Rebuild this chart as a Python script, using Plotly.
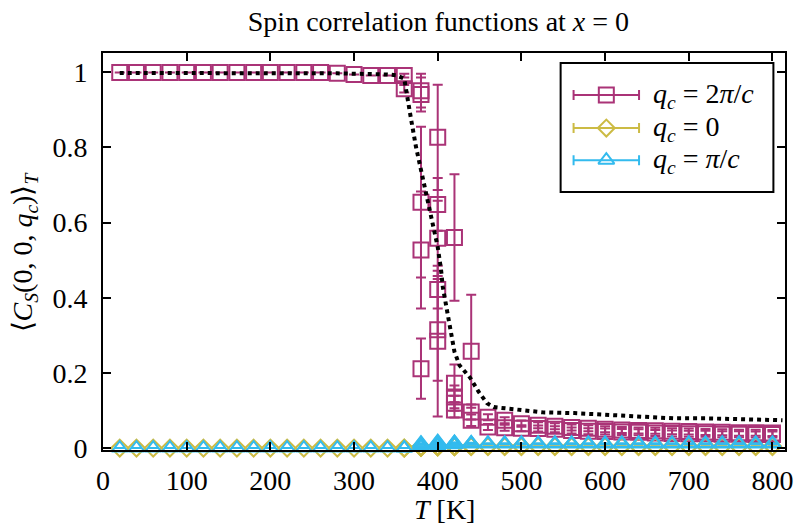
import plotly.graph_objects as go

# ---------------- data ----------------
T_purple = [20, 40, 60, 80, 100, 120, 140, 160, 180, 200, 220, 240, 260, 280, 300, 320, 340,
            360, 360,
            380, 380, 380, 380, 380,
            400, 400, 400, 400, 400, 400,
            420, 420, 420, 420, 420,
            440, 440, 440,
            460, 460, 480, 480, 500, 500, 520, 520, 540, 540, 560, 560, 580, 580,
            600, 600, 620, 620, 640, 640, 660, 660, 680, 680, 700, 700, 720, 720,
            740, 740, 760, 760, 780, 780, 800, 800]
C_purple = [0.998, 0.998, 0.998, 0.998, 0.998, 0.998, 0.998, 0.998, 0.998, 0.998, 0.998, 0.998, 0.998,
            0.996, 0.993, 0.990, 0.990,
            0.990, 0.955,
            0.950, 0.940, 0.654, 0.527, 0.212,
            0.826, 0.648, 0.558, 0.422, 0.315, 0.285,
            0.560, 0.173, 0.137, 0.120, 0.102,
            0.258, 0.097, 0.075,
            0.083, 0.057, 0.075, 0.055, 0.066, 0.054, 0.062, 0.053, 0.059, 0.051, 0.056, 0.048,
            0.054, 0.046, 0.051, 0.045, 0.049, 0.044, 0.048, 0.043, 0.047, 0.041, 0.046, 0.040,
            0.045, 0.039, 0.044, 0.039, 0.043, 0.038, 0.042, 0.038, 0.042, 0.037, 0.041, 0.037]
E_purple = [0.0] * 17 + [0.005, 0.010,
            0.045, 0.045, 0.200, 0.155, 0.080,
            0.140, 0.070, 0.100, 0.050, 0.135, 0.200,
            0.168, 0.050, 0.030, 0.020, 0.020,
            0.150, 0.020, 0.015] + [0.008] * 36

C_yellow = [0.001] * 19 + [0.003, 0.004, 0.005, 0.004, 0.003,
            0.004, 0.005, 0.006, 0.005, 0.004, 0.005,
            0.005, 0.006, 0.005, 0.006, 0.005,
            0.006, 0.005, 0.006] + [0.006, 0.005] * 18
E_yellow = [0.0] * len(T_purple)

C_cyan = [0.001] * 19 + [0.004, 0.006, 0.010, 0.012, 0.014,
          0.008, 0.010, 0.012, 0.014, 0.016, 0.018,
          0.010, 0.012, 0.014, 0.015, 0.016,
          0.012, 0.014, 0.015] + [0.014, 0.012] * 18
E_cyan = [0.0] * len(T_purple)

T_dotted = [20, 100, 200, 280, 340, 350, 360, 364, 368, 374, 380, 384, 388, 392, 396, 400,
            404, 406, 410, 413, 416, 420, 426, 433, 439, 449, 459, 467, 487, 500, 525, 563,
            600, 643, 682, 721, 760, 812]
C_dotted = [0.997, 0.997, 0.997, 0.996, 0.993, 0.991, 0.982, 0.925, 0.876, 0.801, 0.739, 0.695,
            0.650, 0.606, 0.571, 0.535, 0.474, 0.430, 0.380, 0.345, 0.300, 0.257, 0.221, 0.203,
            0.187, 0.150, 0.120, 0.110, 0.106, 0.102, 0.096, 0.094, 0.090, 0.083, 0.080, 0.080,
            0.078, 0.075]

series_names = ["<i>q</i><sub><i>c</i></sub> = 2<i>π</i>/<i>c</i>",
                "<i>q</i><sub><i>c</i></sub> = 0",
                "<i>q</i><sub><i>c</i></sub> = <i>π</i>/<i>c</i>"]
colors = ["#AA3377", "#CCBB44", "#33BBEE"]
symbols = ["square-open", "diamond-open", "triangle-up-open"]
sizes = [15, 13, 14]

x_ticks = [0, 100, 200, 300, 400, 500, 600, 700, 800]
y_ticks = [0, 0.2, 0.4, 0.6, 0.8, 1]
y_ticktext = ["0", "0.2", "0.4", "0.6", "0.8", "1"]

FONT = "Liberation Serif"
FS = 28

fig = go.Figure()

for vals, errs, col, sym, sz in [(C_purple, E_purple, colors[0], symbols[0], sizes[0]),
                                 (C_yellow, E_yellow, colors[1], symbols[1], sizes[1]),
                                 (C_cyan, E_cyan, colors[2], symbols[2], sizes[2])]:
    fig.add_trace(go.Scatter(
        x=T_purple, y=vals, mode="markers",
        marker=dict(symbol=sym, size=sz, color=col, line=dict(width=2, color=col)),
        error_y=dict(type="data", array=errs, visible=True, color=col, thickness=2, width=5),
        cliponaxis=False, showlegend=False))

fig.add_trace(go.Scatter(
    x=T_dotted, y=C_dotted, mode="lines",
    line=dict(color="black", width=4, dash="dot"), showlegend=False))

# ------------- custom legend (gnuplot-like) -------------
leg_y = [0.894, 0.811, 0.730]
for i in range(3):
    fig.add_trace(go.Scatter(
        x=[0.738], y=[leg_y[i]], xaxis="x2", yaxis="y2", mode="markers",
        marker=dict(symbol=symbols[i], size=sizes[i], color=colors[i],
                    line=dict(width=2, color=colors[i])),
        error_x=dict(type="constant", value=0.048, visible=True, color=colors[i],
                     thickness=2, width=5),
        cliponaxis=False, showlegend=False, hoverinfo="skip"))
    fig.add_annotation(x=0.803, y=leg_y[i], xref="paper", yref="paper", text=series_names[i],
                       showarrow=False, xanchor="left", yanchor="middle",
                       font=dict(family=FONT, size=FS, color="black"))

fig.add_shape(type="rect", xref="paper", yref="paper", x0=0.671, x1=0.983, y0=0.650, y1=0.975,
              line=dict(color="black", width=2), fillcolor="white", layer="below")

axis_common = dict(showgrid=False, zeroline=False, ticks="inside", ticklen=8, tickwidth=1.5,
                   tickcolor="black", showline=True, linecolor="black", linewidth=2,
                   mirror="ticks", tickfont=dict(family=FONT, size=FS, color="black"))

fig.update_layout(
    width=803, height=526,
    margin=dict(l=103, r=10, t=53, b=76),
    paper_bgcolor="white", plot_bgcolor="white",
    showlegend=False,
    font=dict(family=FONT, size=FS, color="black"),
    title=dict(text="Spin correlation functions at <i>x</i> = 0", x=0.546, xanchor="center",
               y=1 - 21 / 526, yanchor="middle",
               font=dict(family=FONT, size=FS, color="black")),
    xaxis=dict(range=[0, 815], tickvals=x_ticks, ticklabelstandoff=4, **axis_common),
    yaxis=dict(range=[-0.004, 1.05], tickvals=y_ticks, ticktext=y_ticktext,
               ticklabelstandoff=8, **axis_common),
    xaxis2=dict(overlaying="x", range=[0, 1], visible=False),
    yaxis2=dict(overlaying="y", range=[0, 1], visible=False),
)

fig.add_annotation(x=0.5, y=-0.151, xref="paper", yref="paper", text="<i>T</i> [K]",
                   showarrow=False, xanchor="center", yanchor="middle",
                   font=dict(family=FONT, size=FS, color="black"))
fig.add_annotation(x=-0.1145, y=0.5, xref="paper", yref="paper",
                   text="⟨<i>C</i><sub><i>S</i></sub>(0, 0, <i>q</i><sub><i>c</i></sub>)⟩<sub><i>T</i></sub>",
                   showarrow=False, textangle=-90, xanchor="center", yanchor="middle",
                   font=dict(family=FONT, size=FS, color="black"))

fig.write_html("out.html")
